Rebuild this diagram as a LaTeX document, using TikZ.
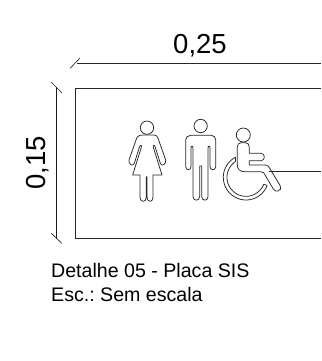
\documentclass[tikz,border=0pt]{standalone}
\usepackage{fontspec}
\setmainfont{Liberation Sans}
\tikzset{
  ln/.style={draw=black!85,line width=0.8pt},
  thin ln/.style={draw=black!90,line width=0.6pt},
  icon/.style={draw=black!85,line width=0.75pt,line join=round,fill=white},
  dimtext/.style={font=\fontsize{27.5}{30}\selectfont,inner sep=0pt},
  note/.style={font=\fontsize{19.6}{24}\selectfont\frenchspacing,inner sep=0pt,align=left}
}
\begin{document}
\begin{tikzpicture}[x=1pt,y=-1pt]
\useasboundingbox (0,0) rectangle (321,361);
% plate
\draw[ln] (321,88) -- (75,88) -- (75,238) -- (321,238);
% dimensions
\coordinate (ta) at (77,63.5); \coordinate (tb) at (321,63.5);
\coordinate (la) at (56.5,87); \coordinate (lb) at (56.5,239);
\draw[ln] (ta) -- (tb);
\draw[thin ln] (70,68.5) -- (80,58);
\draw[thin ln] (la) -- (lb);
\draw[thin ln] (51,82) -- (62,93);
\draw[thin ln] (51,233) -- (62,243.5);
\node[dimtext] (w) at (200,46) {0,25};
\node[dimtext,rotate=90] (h) at (38,163) {0,15};
\node[note,anchor=north west] (cap) at (51,263.5) {Detalhe 05 - Placa SIS\\Esc.: Sem escala};
% pictograms
\begin{scope}[shift={(120,110)},x=0.3333pt,y=-0.3333pt]
 % woman
 \draw[icon] (81,53) circle (20);
 \draw[icon] (68,75) -- (100,75) .. controls (110,75) and (113,80) .. (116,90)
   -- (137,150) .. controls (140,162) and (125,172) .. (121,160)
   -- (106,112) .. controls (104,104) and (98,104) .. (100,112)
   -- (126,195) -- (99,195) -- (99,262) .. controls (99,278) and (81,278) .. (81,262)
   -- (81,200) -- (79,200) -- (79,262) .. controls (79,278) and (60,278) .. (60,262)
   -- (60,195) -- (38,195) -- (64,112) .. controls (66,104) and (60,104) .. (58,112)
   -- (43,160) .. controls (39,172) and (24,162) .. (27,150)
   -- (48,90) .. controls (51,80) and (56,75) .. (68,75) -- cycle;
 % man
 \draw[icon] (242,48) circle (20);
 \draw[icon] (212,76) -- (274,76) .. controls (282,76) and (287,82) .. (287,90)
   -- (287,170) .. controls (287,182) and (270,182) .. (270,170)
   -- (270,115) .. controls (270,106) and (264,106) .. (264,115)
   -- (264,260) .. controls (264,274) and (245,274) .. (245,260)
   -- (245,168) -- (239,168) -- (239,260) .. controls (239,274) and (219,274) .. (219,260)
   -- (219,115) .. controls (219,106) and (213,106) .. (213,115)
   -- (213,170) .. controls (213,182) and (197,182) .. (197,170)
   -- (197,90) .. controls (197,82) and (203,76) .. (212,76) -- cycle;
 % wheelchair
 \draw[icon] (370,75) circle (21);
 \draw[icon] plot[domain=242.7:21,samples=50,variable=\t] ({378+68*cos(\t)},{202+68*sin(\t)})
   -- plot[domain=21:236,samples=50,variable=\t] ({378+57*cos(\t)},{202+57*sin(\t)}) -- cycle;
 \draw[icon] (364,98) -- (376,98) .. controls (384,98) and (388,104) .. (388,112)
   -- (388,130) -- (424,130) .. controls (436,130) and (436,152) .. (424,152)
   -- (388,152) -- (388,165) -- (436,165) .. controls (442,165) and (445,168) .. (448,173)
   -- (481,228) .. controls (488,242) and (466,250) .. (460,237)
   -- (431,188) .. controls (428,185) and (426,185) .. (422,185)
   -- (372,185) .. controls (360,185) and (352,177) .. (352,165)
   -- (352,110) .. controls (352,103) and (357,98) .. (364,98) -- cycle;
 \coordinate (ra) at (446,184); \coordinate (rb) at (603,184);
 \draw[ln] (ra) -- (rb);
\end{scope}
\end{tikzpicture}
\end{document}
